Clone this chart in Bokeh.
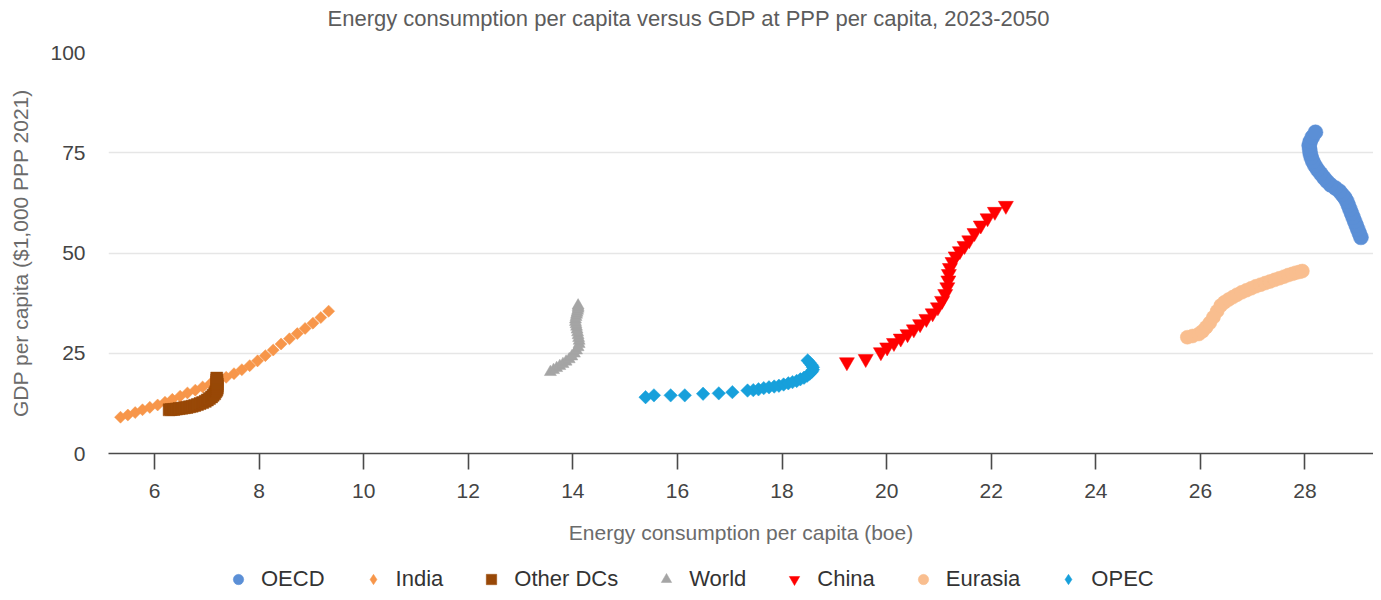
import numpy as np
from bokeh.plotting import figure
from bokeh.layouts import column
from bokeh.models import FixedTicker, Legend, LegendItem, Range1d, Label
from bokeh.embed import file_html
from bokeh.resources import INLINE

# ---------------- data ----------------
years = list(range(2023, 2051))

oecd_x = [29.07, 29.04, 29.01, 28.98, 28.95, 28.92, 28.89, 28.86, 28.83, 28.80, 28.76, 28.71, 28.66, 28.58,
          28.49, 28.42, 28.36, 28.30, 28.24, 28.19, 28.15, 28.12, 28.10, 28.09, 28.08, 28.10, 28.14, 28.20]
oecd_y = [53.9, 54.9, 55.9, 56.9, 57.9, 58.9, 59.9, 60.9, 61.9, 62.9, 63.8, 64.6, 65.4, 66.2,
          67.0, 67.9, 68.8, 69.8, 70.8, 71.8, 72.8, 73.8, 74.8, 75.8, 76.8, 77.8, 78.9, 80.1]

india_x = [5.35, 5.49, 5.63, 5.77, 5.91, 6.06, 6.20, 6.34, 6.49, 6.63, 6.78, 6.92, 7.07, 7.22,
           7.37, 7.52, 7.67, 7.82, 7.97, 8.12, 8.27, 8.42, 8.58, 8.73, 8.88, 9.03, 9.18, 9.33]
india_y = [9.05, 9.6, 10.2, 10.9, 11.5, 12.1, 12.8, 13.5, 14.3, 15.1, 15.8, 16.6, 17.4, 18.2,
           19.0, 19.9, 20.9, 21.9, 23.1, 24.4, 25.8, 27.3, 28.6, 29.9, 31.2, 32.5, 33.9, 35.5]

otherdc_x = [6.28, 6.32, 6.37, 6.42, 6.47, 6.52, 6.57, 6.62, 6.67, 6.72, 6.77, 6.82, 6.87, 6.92,
             6.97, 7.01, 7.05, 7.09, 7.12, 7.15, 7.17, 7.19, 7.20, 7.20, 7.20, 7.19, 7.19, 7.19]
otherdc_y = [10.9, 10.95, 11.0, 11.1, 11.2, 11.3, 11.4, 11.5, 11.65, 11.8, 12.0, 12.2, 12.45, 12.7,
             13.0, 13.35, 13.7, 14.1, 14.5, 14.9, 15.4, 15.8, 16.3, 16.8, 17.3, 17.8, 18.3, 18.8]

world_x = [13.57, 13.63, 13.69, 13.75, 13.81, 13.87, 13.93, 13.98, 14.03, 14.07, 14.10, 14.12, 14.12, 14.11,
           14.10, 14.09, 14.08, 14.07, 14.06, 14.05, 14.05, 14.06, 14.07, 14.08, 14.09, 14.10, 14.10, 14.10]
world_y = [20.3, 20.8, 21.3, 21.8, 22.3, 22.9, 23.5, 24.2, 24.9, 25.7, 26.5, 27.3, 28.1, 28.8,
           29.5, 30.2, 30.9, 31.6, 32.2, 32.8, 33.4, 34.0, 34.6, 35.1, 35.6, 36.1, 36.5, 36.9]

china_x = [19.24, 19.60, 19.89, 20.01, 20.14, 20.27, 20.40, 20.52, 20.64, 20.76, 20.88, 20.98, 21.06, 21.12,
           21.16, 21.18, 21.19, 21.21, 21.26, 21.32, 21.40, 21.49, 21.58, 21.68, 21.80, 21.93, 22.07, 22.28]
china_y = [22.8, 23.6, 25.3, 26.5, 27.6, 28.7, 29.8, 31.0, 32.3, 33.6, 35.0, 36.5, 38.1, 39.8,
           41.5, 43.2, 44.8, 46.3, 47.8, 49.2, 50.5, 51.8, 53.2, 55.0, 56.9, 58.7, 60.3, 61.8]

eurasia_x = [25.75, 25.85, 25.97, 26.04, 26.11, 26.18, 26.25, 26.32, 26.39, 26.46, 26.54, 26.62, 26.70, 26.79,
             26.88, 26.97, 27.06, 27.15, 27.24, 27.33, 27.42, 27.51, 27.60, 27.68, 27.76, 27.83, 27.90, 27.95]
eurasia_y = [29.0, 29.3, 29.8, 30.5, 31.5, 32.6, 34.0, 35.5, 36.9, 37.7, 38.4, 39.0, 39.6, 40.2,
             40.7, 41.2, 41.7, 42.1, 42.5, 42.9, 43.3, 43.7, 44.1, 44.5, 44.8, 45.1, 45.3, 45.5]

opec_x = [15.39, 15.55, 15.87, 16.14, 16.49, 16.79, 17.05, 17.34, 17.45, 17.55, 17.65, 17.75, 17.85, 17.94,
          18.03, 18.12, 18.20, 18.28, 18.35, 18.42, 18.48, 18.53, 18.57, 18.59, 18.59, 18.57, 18.53, 18.49]
opec_y = [14.05, 14.5, 14.5, 14.5, 14.9, 15.0, 15.3, 15.7, 15.8, 16.0, 16.3, 16.5, 16.7, 16.9,
          17.2, 17.5, 17.8, 18.1, 18.5, 18.9, 19.4, 19.9, 20.4, 20.9, 21.5, 22.0, 22.6, 23.2]

x_ticks = [6, 8, 10, 12, 14, 16, 18, 20, 22, 24, 26, 28]
y_ticks = [0, 25, 50, 75, 100]

title_text = "Energy consumption per capita versus GDP at PPP per capita, 2023-2050"
x_title = "Energy consumption per capita (boe)"
y_title = "GDP per capita ($1,000 PPP 2021)"

FONT = "Liberation Sans"

W = 1373
H_TITLE, H_MAIN, H_LEG = 36, 520, 36


def strip(height):
    f = figure(width=W, height=height, output_backend="svg", toolbar_location=None,
               x_range=Range1d(0, 1), y_range=Range1d(0, 1), x_axis_type=None, y_axis_type=None,
               min_border=0, min_border_left=0, min_border_right=0,
               min_border_top=0, min_border_bottom=0)
    f.outline_line_color = None
    f.xgrid.visible = False
    f.ygrid.visible = False
    return f


# ---------------- title strip ----------------
tt = strip(H_TITLE)
tt.add_layout(Label(x=219, y=H_TITLE / 2, x_units="screen", y_units="screen", text=title_text,
                    text_align="left", text_baseline="middle", text_font=FONT,
                    text_font_size="22px", text_color="#5c5c5c"))

# ---------------- main figure ----------------
p = figure(width=W, height=H_MAIN, output_backend="svg", toolbar_location=None,
           x_range=Range1d(5.12, 29.31), y_range=Range1d(0, 100),
           min_border_left=108, min_border_right=0, min_border_top=16,
           min_border_bottom=H_MAIN - 16 - 401)
p.outline_line_color = None
p.background_fill_color = "white"
p.border_fill_color = "white"

p.xaxis.ticker = FixedTicker(ticks=x_ticks)
p.yaxis.ticker = FixedTicker(ticks=y_ticks)
p.xgrid.grid_line_color = None
p.ygrid.grid_line_color = "#e6e6e6"
p.ygrid.grid_line_width = 1.5

for ax in (p.xaxis, p.yaxis):
    ax.major_label_text_font = FONT
    ax.major_label_text_font_size = "21px"
    ax.major_label_text_color = "#444444"
    ax.axis_label_text_font = FONT
    ax.axis_label_text_font_size = "21px"
    ax.axis_label_text_font_style = "normal"
    ax.axis_label_text_color = "#6b6b6b"
    ax.minor_tick_line_color = None

p.xaxis.axis_label = x_title
p.xaxis.axis_line_color = "#4a4a4a"
p.xaxis.axis_line_width = 1.6
p.xaxis.major_tick_line_color = "#4a4a4a"
p.xaxis.major_tick_line_width = 1.6
p.xaxis.major_tick_out = 16
p.xaxis.major_tick_in = 0
p.xaxis.major_label_standoff = 14
p.xaxis.axis_label_standoff = 20

p.yaxis.axis_label = y_title
p.yaxis.axis_line_color = None
p.yaxis.major_tick_line_color = None
p.yaxis.major_tick_out = 0
p.yaxis.major_tick_in = 0
p.yaxis.major_label_standoff = 23
p.yaxis.axis_label_standoff = 15

# name, x, y, plot marker, size, colour, angle, legend marker
series = [
    ("OECD", oecd_x, oecd_y, "circle", 15, "#5b8fd6", 0.0, "circle"),
    ("India", india_x, india_y, "square", 8.5, "#f7964a", np.pi / 4, "diamond"),
    ("Other DCs", otherdc_x, otherdc_y, "square", 12, "#984807", 0.0, "square"),
    ("World", world_x, world_y, "triangle", 12, "#a5a5a5", 0.0, "triangle"),
    ("China", china_x, china_y, "inverted_triangle", 15, "#ff0000", 0.0, "inverted_triangle"),
    ("Eurasia", eurasia_x, eurasia_y, "circle", 14, "#f9be8f", 0.0, "circle"),
    ("OPEC", opec_x, opec_y, "square", 9.5, "#17a0db", np.pi / 4, "diamond"),
]

for name, xs, ys, marker, size, color, ang, lmarker in series:
    p.scatter(xs, ys, marker=marker, size=size, fill_color=color, line_color=color,
              line_width=0.5, angle=ang)

# ---------------- legend strip ----------------
# the same series are drawn here, outside this strip's (0..1) ranges, so only their legend glyphs show
lg = strip(H_LEG)
items = []
for name, xs, ys, marker, size, color, ang, lmarker in series:
    r = lg.scatter(xs, ys, marker=lmarker, size=size, fill_color=color, line_color=color,
                   line_width=0.5)
    items.append(LegendItem(label=name, renderers=[r]))

legend = Legend(items=items, orientation="horizontal", location=(117, 0),
                glyph_width=26, glyph_height=26, label_standoff=10, spacing=35,
                padding=0, margin=0, label_text_font=FONT, label_text_font_size="22px",
                label_text_color="#333333", background_fill_alpha=0, border_line_color=None)
lg.add_layout(legend, "center")

layout = column(tt, p, lg, spacing=0)
open("out.html", "w").write(file_html(layout, INLINE))
